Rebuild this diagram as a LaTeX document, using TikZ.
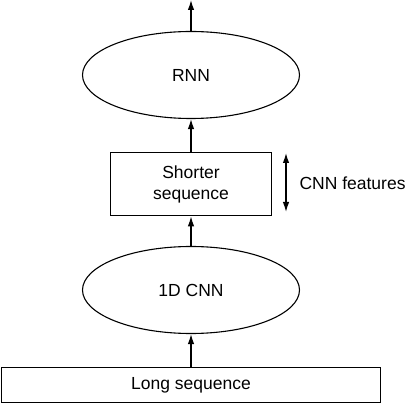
\documentclass[tikz,border=0pt]{standalone}
\usepackage{fontspec}
\setmainfont{Liberation Sans}
\usetikzlibrary{shapes.geometric,arrows.meta}
\tikzset{
	blk/.style={draw,line width=1.6pt,inner sep=0pt,align=center,font=\fontsize{17.5}{21}\selectfont},
	oval/.style={draw,ellipse,line width=1.1pt,inner sep=0pt,minimum width=217pt,minimum height=87pt,font=\fontsize{17.5}{21}\selectfont}
}
\begin{document}
\begin{tikzpicture}[x=1pt,y=1pt,>={Latex[length=10pt,width=6.5pt]}]
		\useasboundingbox (0,0) rectangle (406,404);
		\node[blk,minimum width=379pt,minimum height=35pt] (longseq) at (191,19) {Long sequence};
		\node[oval] (cnn) at (191,114) {1D CNN};
		\node[blk,minimum width=161pt,minimum height=63pt] (shortseq) at (191,220) {Shorter\\sequence};
		\node[oval] (rnn) at (191,329) {RNN};
		\coordinate (out) at (191,404);
		\coordinate (fa) at (286,192);
		\coordinate (fb) at (286,251);
		\node[anchor=west,font=\fontsize{17.5}{21}\selectfont] (feat) at (296,221) {CNN features};
		\draw[->,line width=1.3pt](longseq)--(cnn);
		\draw[->,line width=1.3pt](cnn)--(shortseq);
		\draw[->,line width=1.3pt](shortseq)--(rnn);
		\draw[->,line width=1.3pt](rnn)--(out);
		\draw[<->,line width=1.3pt](fa)--(fb);
	\end{tikzpicture}
\end{document}
